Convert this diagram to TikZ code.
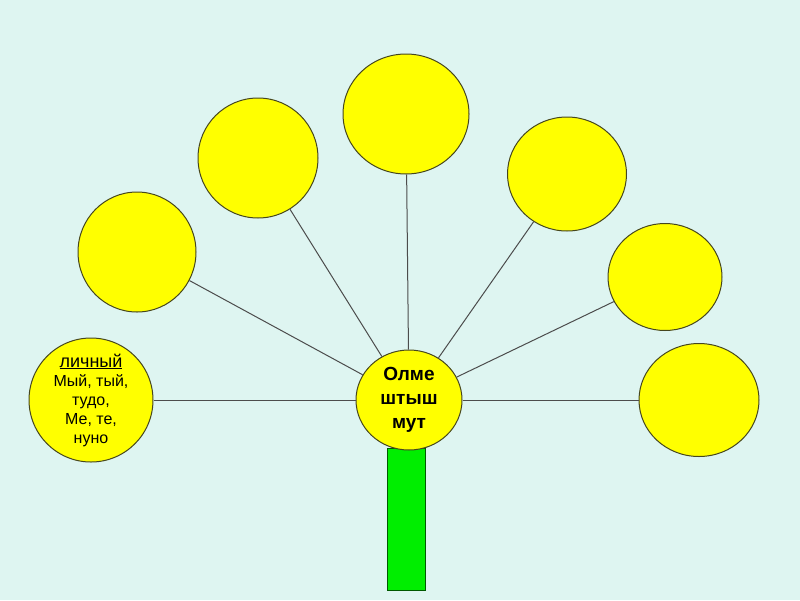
\documentclass[tikz,border=0pt]{standalone}
\usepackage{fontspec}
\setmainfont{Liberation Sans}
\usetikzlibrary{shapes.geometric}
\definecolor{skybg}{RGB}{222,245,241}
\definecolor{petalyellow}{RGB}{255,255,0}
\definecolor{stemgreen}{RGB}{0,238,0}
\definecolor{rimdark}{RGB}{70,70,30}

\begin{document}
\begin{tikzpicture}[x=1pt, y=-1pt,
    every node/.style={font=\fontsize{16}{19}\selectfont, align=center},
    petal/.style={ellipse, draw=rimdark, line width=1pt, fill=petalyellow, inner sep=0pt},
    twig/.style={draw=black!70, line width=1pt}]
  \fill[skybg] (0,0) rectangle (800,600);
  % stem
  \node[draw=green!35!black, fill=stemgreen, line width=0.9pt, minimum width=38, minimum height=142, inner sep=0pt] (stem) at (406,519) {};
  % petals
  \node[petal, inner sep=-10pt, minimum width=124, minimum height=124] (left) at (91,400) {{\fontsize{18}{20}\selectfont\underline{личный}}\\Мый, тый,\\тудо,\\Ме, те,\\нуно};
  \node[petal, minimum width=118, minimum height=120] (p1) at (137,252) {};
  \node[petal, minimum width=120, minimum height=120] (p2) at (258,158) {};
  \node[petal, minimum width=126, minimum height=120] (p3) at (406,114) {};
  \node[petal, minimum width=119, minimum height=114] (p4) at (567,174) {};
  \node[petal, minimum width=114, minimum height=107] (p5) at (665,277) {};
  \node[petal, minimum width=120, minimum height=113] (p6) at (699,400) {};
  \node[petal, minimum width=106, minimum height=100, font=\fontsize{19}{24}\selectfont\bfseries] (core) at (409,400) {Олме\\штыш\\мут};
  % twigs
  \draw[twig] (core) -- (left);
  \draw[twig] (core) -- (p1);
  \draw[twig] (core) -- (p2);
  \draw[twig] (core) -- (p3);
  \draw[twig] (core) -- (p4);
  \draw[twig] (core) -- (p5);
  \draw[twig] (core) -- (p6);
\end{tikzpicture}
\end{document}
